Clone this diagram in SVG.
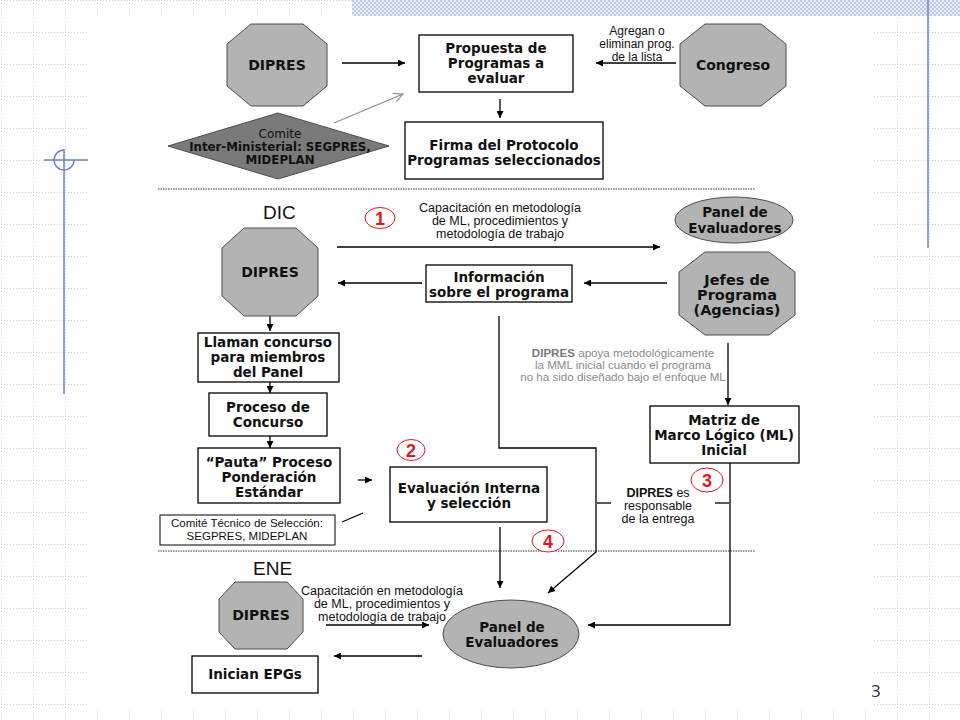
<svg xmlns="http://www.w3.org/2000/svg" width="960" height="720" viewBox="0 0 960 720">
<defs>
<pattern id="grid" x="1" y="0" width="32" height="32" patternUnits="userSpaceOnUse">
<line x1="0" y1="0.5" x2="32" y2="0.5" stroke="#c9c9e4" stroke-width="1" stroke-dasharray="1 2"/>
<line x1="0.5" y1="0" x2="0.5" y2="32" stroke="#d2d2ea" stroke-width="1" stroke-dasharray="1 2"/>
</pattern>
<pattern id="check" x="0" y="0" width="4" height="4" patternUnits="userSpaceOnUse">
<rect width="4" height="4" fill="#e9eefa"/>
<rect width="2" height="2" fill="#bccaef"/>
<rect x="2" y="2" width="2" height="2" fill="#bccaef"/>
</pattern>
<marker id="ah" viewBox="0 0 10 10" refX="10" refY="5" markerWidth="9" markerHeight="7" markerUnits="userSpaceOnUse" orient="auto">
<path d="M0,0 L10,5 L0,10 z" fill="#000"/>
</marker>
<marker id="ao" viewBox="0 0 10 10" refX="10" refY="5" markerWidth="11" markerHeight="9" markerUnits="userSpaceOnUse" orient="auto">
<path d="M0,0 L10,5 L0,10" fill="none" stroke="#8a8a8a" stroke-width="1.2"/>
</marker>
<style>
.box{fill:#fff;stroke:#000;stroke-width:1.3}
.oct{fill:#b3b3b3;stroke:#4d4d4d;stroke-width:1}
.dia{fill:#7a7a7a;stroke:#4d4d4d;stroke-width:1}
.b{font-family:"DejaVu Sans","Liberation Sans",sans-serif;font-weight:bold;font-size:13.5px;text-anchor:middle;fill:#111}
.o{font-size:14px}
.r{font-family:"Liberation Sans",Arial,sans-serif;font-size:12px;text-anchor:middle;fill:#111}
.r13{font-size:12.5px}
.g{fill:#8a8a8a}
.num{font-family:"Liberation Sans",Arial,sans-serif;font-weight:bold;font-size:18px;fill:#e8141b;text-anchor:middle}
.circ{fill:#fff;stroke:#e8141b;stroke-width:1}
.conn{fill:none;stroke:#000;stroke-width:1.3}
.sep{stroke:#9a9a9a;stroke-width:2;stroke-dasharray:1.5 1}
.blue{stroke:#6f7fcf;stroke-width:1.5;fill:none}
.title{font-family:"Liberation Sans",Arial,sans-serif;font-size:19px;fill:#111}
</style>
</defs>

<g id="background">
<rect width="960" height="720" fill="#fff"/>
<rect width="960" height="720" fill="url(#grid)"/>
<rect x="352" y="0" width="608" height="16" fill="url(#check)"/>
<line class="blue" x1="928" y1="0" x2="928" y2="248"/>
<line class="blue" x1="64" y1="149" x2="64" y2="394"/>
<line class="blue" x1="44" y1="160" x2="88" y2="160"/>
<path class="blue" d="M64,150 A10,10 0 1,0 74,160" stroke-width="1.2"/>
<text x="871" y="697" font-family="Open Sans, Liberation Sans, sans-serif" font-size="17" fill="#2d2d5a">3</text>
<rect x="88" y="17" width="784" height="693" fill="#fff"/>
</g>

<g id="separators">
<line class="sep" x1="158" y1="189" x2="755" y2="189"/>
<line class="sep" x1="158" y1="551" x2="755" y2="551"/>
</g>

<g id="connectors">
<path class="conn" d="M342,63 H405" marker-end="url(#ah)"/>
<path d="M334,123 L403,94" fill="none" stroke="#8a8a8a" stroke-width="1.2" marker-end="url(#ao)"/>
<path class="conn" d="M676,63 H596" marker-end="url(#ah)"/>
<path class="conn" d="M500,99 V118" marker-end="url(#ah)"/>
<path class="conn" d="M337,247 H660" marker-end="url(#ah)"/>
<path class="conn" d="M667,283 H584" marker-end="url(#ah)"/>
<path class="conn" d="M422,283 H338" marker-end="url(#ah)"/>
<path class="conn" d="M270,316 V331" marker-end="url(#ah)"/>
<path class="conn" d="M270,382 V393" marker-end="url(#ah)"/>
<path class="conn" d="M270,436 V448" marker-end="url(#ah)"/>
<path class="conn" d="M358,480 H372" marker-end="url(#ah)"/>
<path class="conn" d="M342,522 L363,513"/>
<path class="conn" d="M499,316 V448 H596 V552 L548,593" marker-end="url(#ah)"/>
<path class="conn" d="M728,343 V405" marker-end="url(#ah)"/>
<path class="conn" d="M500,527 V588" marker-end="url(#ah)"/>
<path class="conn" d="M730,463 V625 H588" marker-end="url(#ah)"/>
<path class="conn" d="M597,503 H611"/>
<path class="conn" d="M715,503 H729"/>
<path class="conn" d="M326,625 H429" marker-end="url(#ah)"/>
<path class="conn" d="M422,656 H334" marker-end="url(#ah)"/>
</g>

<g id="label-agregan">
<text class="r" x="637" y="35">Agregan o</text>
<text class="r" x="637" y="48">eliminan prog.</text>
<text class="r" x="637" y="61">de la lista</text>
</g>

<g id="dipres-top">
<polygon class="oct" points="251,24 303,24 327,44 327,86 303,106 251,106 227,86 227,44"/>
<text class="b o" x="277" y="70">DIPRES</text>
</g>

<g id="comite">
<polygon class="dia" points="168,146 278,113 389,146 278,179"/>
<text class="b" x="280" y="138" style="font-size:12px;font-weight:normal">Comite</text>
<text class="b" x="280" y="151" style="font-size:11.8px">Inter-Ministerial: SEGPRES,</text>
<text class="b" x="280" y="164" style="font-size:11.8px">MIDEPLAN</text>
</g>

<g id="propuesta">
<rect class="box" x="419" y="35" width="154" height="57"/>
<text class="b" x="496" y="53">Propuesta de</text>
<text class="b" x="496" y="68">Programas a</text>
<text class="b" x="496" y="83">evaluar</text>
</g>

<g id="congreso">
<polygon class="oct" points="705,24 761,24 786,44 786,86 761,106 705,106 680,86 680,44"/>
<text class="b o" x="733" y="70">Congreso</text>
</g>

<g id="firma">
<rect class="box" x="405" y="122" width="198" height="57"/>
<text class="b" x="504" y="150">Firma del Protocolo</text>
<text class="b" x="504" y="165">Programas seleccionados</text>
</g>

<g id="dic-title">
<text class="title" x="263" y="219">DIC</text>
</g>

<g id="marker-1">
<ellipse class="circ" cx="380" cy="218" rx="15" ry="10.5"/>
<text class="num" x="380" y="224.5">1</text>
</g>

<g id="label-capacitacion-dic">
<text class="r r13" x="500" y="212">Capacitación en metodología</text>
<text class="r r13" x="500" y="225">de ML, procedimientos y</text>
<text class="r r13" x="500" y="238">metodología de trabajo</text>
</g>

<g id="panel-dic">
<ellipse class="oct" cx="734" cy="220" rx="59" ry="23"/>
<text class="b" x="735" y="217">Panel de</text>
<text class="b" x="735" y="233">Evaluadores</text>
</g>

<g id="dipres-dic">
<polygon class="oct" points="244,228 296,228 318,248 318,296 296,316 244,316 222,296 222,248"/>
<text class="b o" x="270" y="277">DIPRES</text>
</g>

<g id="informacion">
<rect class="box" x="426" y="265" width="146" height="37"/>
<text class="b" x="499" y="282">Información</text>
<text class="b" x="499" y="297">sobre el programa</text>
</g>

<g id="jefes">
<polygon class="oct" points="705,252 769,252 795,272 795,315 769,335 705,335 679,315 679,272"/>
<text class="b" x="737" y="285" style="font-size:14.5px">Jefes de</text>
<text class="b" x="737" y="300" style="font-size:14.5px">Programa</text>
<text class="b" x="737" y="315" style="font-size:14.5px">(Agencias)</text>
</g>

<g id="llaman">
<rect class="box" x="198" y="333" width="141" height="49"/>
<text class="b" x="268" y="347">Llaman concurso</text>
<text class="b" x="268" y="362">para miembros</text>
<text class="b" x="268" y="377">del Panel</text>
</g>

<g id="proceso">
<rect class="box" x="209" y="393" width="118" height="43"/>
<text class="b" x="268" y="412">Proceso de</text>
<text class="b" x="268" y="427">Concurso</text>
</g>

<g id="pauta">
<rect class="box" x="198" y="448" width="142" height="55"/>
<text class="b" x="269" y="467">“Pauta” Proceso</text>
<text class="b" x="269" y="482">Ponderación</text>
<text class="b" x="269" y="497">Estándar</text>
</g>

<g id="comite-tecnico">
<rect class="box" x="160" y="515" width="175" height="30" style="stroke-width:1"/>
<text class="r" x="247" y="527" style="font-size:11.5px">Comité Técnico de Selección:</text>
<text class="r" x="247" y="540" style="font-size:11.5px">SEGPRES, MIDEPLAN</text>
</g>

<g id="marker-2">
<ellipse class="circ" cx="411" cy="450" rx="14" ry="10.5"/>
<text class="num" x="411" y="456.5">2</text>
</g>

<g id="evaluacion">
<rect class="box" x="390" y="467" width="157" height="55"/>
<text class="b" x="469" y="493">Evaluación Interna</text>
<text class="b" x="469" y="508">y selección</text>
</g>

<g id="label-apoya">
<text class="r g" x="623" y="357" style="font-size:11.6px"><tspan font-weight="bold" fill="#7a7a7a">DIPRES</tspan> apoya metodológicamente</text>
<text class="r g" x="623" y="369" style="font-size:11.6px">la MML inicial cuando el programa</text>
<text class="r g" x="623" y="381" style="font-size:11.6px">no ha sido diseñado bajo el enfoque ML</text>
</g>

<g id="matriz">
<rect class="box" x="650" y="406" width="149" height="57"/>
<text class="b" x="724" y="425">Matriz de</text>
<text class="b" x="724" y="440">Marco Lógico (ML)</text>
<text class="b" x="724" y="455">Inicial</text>
</g>

<g id="marker-3">
<ellipse class="circ" cx="707" cy="480" rx="16" ry="12"/>
<text class="num" x="707" y="486.5">3</text>
</g>

<g id="label-responsable">
<text class="r r13" x="658" y="497"><tspan font-weight="bold">DIPRES</tspan> es</text>
<text class="r r13" x="658" y="510">responsable</text>
<text class="r r13" x="658" y="523">de la entrega</text>
</g>

<g id="marker-4">
<ellipse class="circ" cx="548" cy="541" rx="16" ry="11"/>
<text class="num" x="548" y="547.5">4</text>
</g>

<g id="ene-title">
<text class="title" x="253" y="575">ENE</text>
</g>

<g id="dipres-ene">
<polygon class="oct" points="235,582 287,582 303,599 303,632 287,649 235,649 219,632 219,599"/>
<text class="b o" x="261" y="620">DIPRES</text>
</g>

<g id="label-capacitacion-ene">
<text class="r r13" x="382" y="595">Capacitación en metodología</text>
<text class="r r13" x="382" y="608">de ML, procedimientos y</text>
<text class="r r13" x="382" y="621">metodología de trabajo</text>
</g>

<g id="panel-ene">
<ellipse class="oct" cx="511" cy="634" rx="68" ry="34"/>
<text class="b" x="512" y="632">Panel de</text>
<text class="b" x="512" y="647">Evaluadores</text>
</g>

<g id="inician">
<rect class="box" x="192" y="656" width="126" height="37"/>
<text class="b" x="255" y="679">Inician EPGs</text>
</g>
</svg>
